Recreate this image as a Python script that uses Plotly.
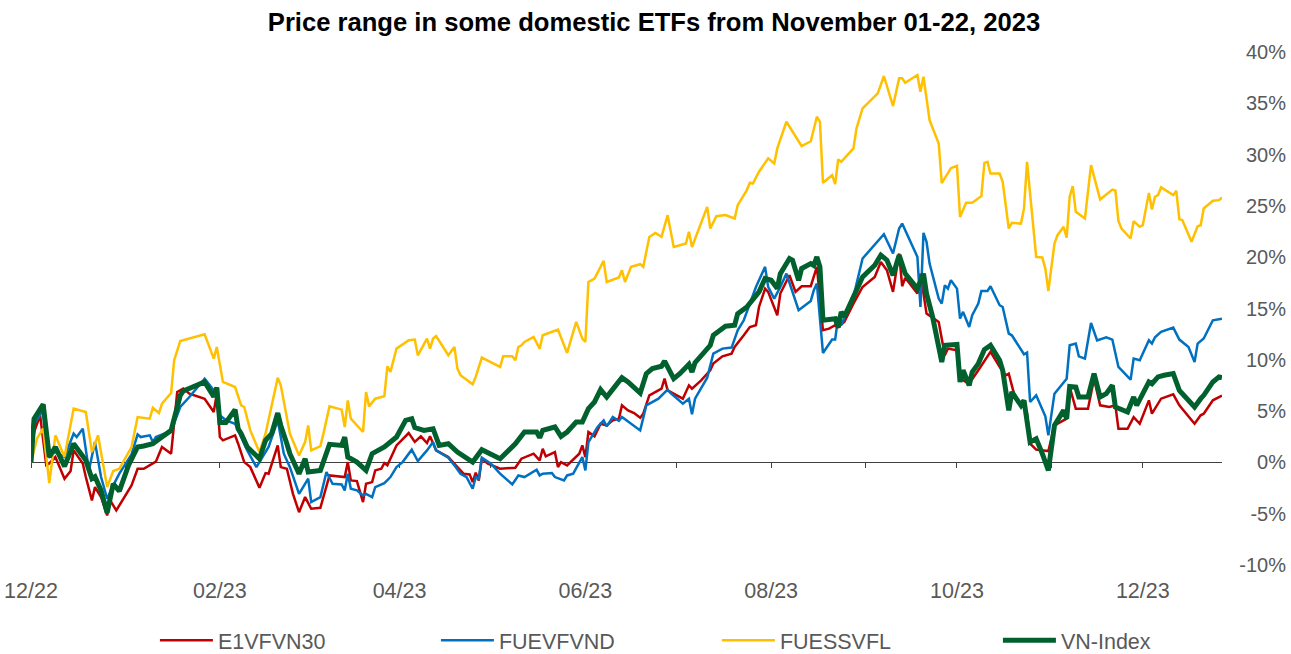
import pandas as pd
import plotly.graph_objects as go

START = "2022-12-01"
END = "2023-12-27"

# x values: days since 2022-12-01 ; y values: % change
e1_day = [0, 1, 3, 5, 6, 8, 11, 13, 14, 17, 18, 20, 21, 23, 25, 26, 28, 33, 35, 37, 41, 43, 46, 48, 50, 52, 57, 60, 61, 62,
          63, 67, 68, 70, 72, 75, 77, 78, 81, 82, 84, 86, 88, 90, 92, 95, 98, 103, 104, 105, 107, 109, 110, 112, 113, 115, 116, 117, 120, 124, 126,
          128, 130, 131, 133, 137, 140, 142, 144, 145, 146, 147, 148, 150, 154, 159, 161, 165, 167, 168, 169, 172, 173, 174, 176, 180, 181, 182, 183, 185, 187, 189, 191,
          193, 194, 196, 198, 200, 201, 203, 207, 208, 209, 214, 216, 217, 220, 223, 224, 227, 230, 231, 234, 236, 238, 239, 241, 242, 245, 246, 249, 251, 253, 256,
          258, 260, 262, 264, 265, 267, 270, 273, 277, 279, 281, 283, 285, 286, 287, 291, 292, 294, 298, 300, 301, 304, 305, 308, 311, 315, 318,
          320, 321, 323, 326, 327, 328, 330, 334, 336, 340, 341, 343, 347, 349, 351, 354, 356, 357, 360, 362, 364, 367, 368, 371, 375, 377, 382, 384, 385, 388, 391]
e1_val = [0, 2.96, 4.59, -0.26, -0.1, 0.52, -1.59, -0.84, 1.17, -0.1, -1.43, -3.71, -2.41, -3.38, -5.17, -3.71, -4.68, -2.24, -0.62, -0.62, 0.07, 1.5, 0.85, 6.86, 7.19, 6.7, 6.21, 4.91, 6.7, 2.47,
          2.15, 2.64, 1.82, 0.03, -0.46, -2.47, -1.04, -1.1, 1.66, -0.46, -0.62, -3.06, -4.85, -3.38, -4.52, -4.42, -1.27, -1.43, 0.03, -1.76, -1.82, -3.87, -2.08, -1.92, -0.78, -0.62, -0.07, -0.29, 1.66, 2.86, 2.0,
          2.54, 1.89, 2.54, 1.17, 0.52, -0.46, -1.1, -1.17, -1.92, -1.0, -1.76, 0.36, -0.13, -0.62, -0.52, 0.36, 0.85, 0.2, 1.33, 0.59, 1.0, -0.46, 0.03, -0.29, 0.85, 1.66, 0.52, 2.96, 2.54, 3.77, 3.61, 4.1,
          4.26, 5.56, 5.07, 4.81, 4.36, 4.75, 6.54, 7.19, 8.16, 7.02, 6.21, 7.51, 7.19, 8.0, 8.98, 9.63, 10.34, 10.6, 11.25, 12.39, 13.2, 13.37, 15.15, 16.94, 16.62, 14.34, 16.46, 18.24, 16.62, 17.17, 17.17,
          19.06, 12.88, 13.04, 13.37, 13.2, 13.69, 15.48, 17.1, 18.08, 19.54, 18.73, 16.62, 20.36, 17.17, 17.99, 16.46, 18.4, 14.5, 13.69, 10.44, 11.09, 10.93, 8.16, 7.67, 8.98, 10.77, 9.31,
          8.49, 8.65, 6.37, 5.4, 4.75, 1.82, 1.24, 1.1, 3.61, 4.26, 7.35, 5.24, 5.24, 8.16, 5.56, 5.4, 5.56, 3.28, 3.28, 4.42, 3.77, 6.05, 4.75, 6.21, 6.63, 5.56, 3.77, 4.59, 4.75, 6.05, 6.5]

fuev_day = [0, 1, 4, 5, 6, 8, 11, 14, 15, 17, 19, 21, 23, 25, 27, 29, 33, 35, 36, 39, 40, 41, 46, 49, 52, 57, 60, 61, 62,
            64, 67, 69, 71, 74, 76, 78, 81, 83, 85, 88, 91, 92, 95, 97, 99, 102, 103, 104, 105, 107, 109, 110, 112, 113, 116, 118, 120, 122, 125, 127,
            130, 132, 133, 137, 139, 141, 143, 145, 146, 147, 148, 151, 154, 158, 160, 162, 166, 167, 168, 171, 172, 175, 176, 178, 181, 182, 183, 186, 188, 189, 191,
            193, 194, 197, 200, 202, 206, 209, 210, 214, 216, 217, 218, 222, 224, 227, 230, 232, 234, 238, 241, 242, 244, 246, 248, 252, 256,
            257, 258, 260, 263, 264, 265, 266, 270, 273, 277, 279, 280, 283, 285, 286, 288, 291, 292, 293, 294, 295, 298, 299, 300, 301, 302, 304, 305, 306, 308, 309, 311, 312, 314, 315, 318,
            319, 321, 322, 326, 327, 328, 330, 333, 334, 336, 340, 341, 343, 344, 346, 348, 350, 353, 355, 357, 361, 362, 364, 367, 368, 369, 371, 375, 377, 380, 382, 383, 385, 388, 391]
fuev_val = [0, 3.77, 5.07, 0.85, 0.52, 1.0, 0.52, 2.8, 2.47, 3.28, -0.78, 1.98, -1.43, -3.54, -2.24, -1.1, 0.78, 2.73, 2.47, 2.64, 1.98, 2.47, 3.06, 5.4, 6.37, 8.16, 7.02, 7.02, 4.59,
            4.1, 3.77, 2.47, 1.17, -0.46, 0.52, 1.5, 4.1, 0.85, -0.46, -3.06, -1.59, -3.87, -3.38, -0.94, -2.08, -2.15, -2.73, -1.1, -2.57, -2.73, -3.22, -3.06, -3.38, -2.41, -2.02, -1.43, -0.46, 0.03, 1.24, 0.13,
            1.17, 1.98, 1.17, 0.46, -0.29, -1.1, -1.43, -2.57, -1.43, -1.59, 0.46, -0.13, -1.1, -2.15, -1.27, -1.43, -0.72, -1.27, -1.1, -1.04, -1.43, -1.76, -1.27, -1.1, 0.52, -0.78, 1.98, 3.45, 4.1, 3.51, 4.42,
            4.04, 4.42, 3.77, 3.12, 5.56, 6.21, 7.09, 6.76, 5.72, 6.21, 4.68, 6.21, 8.26, 10.6, 11.09, 11.19, 12.88, 13.85, 17.1, 19.06, 17.1, 15.97, 17.1, 18.4, 14.83, 15.74,
            16.78, 17.43, 10.67, 11.97, 11.97, 14.18, 13.37, 16.13, 19.87, 21.27, 21.98, 22.24, 20.36, 22.8, 23.28, 21.98, 20.03, 15.15, 22.37, 21.5, 19.38, 15.97, 15.48, 17.27, 16.94, 17.75, 16.94, 14.02, 14.67, 13.2, 14.34, 15.48, 16.7, 16.7, 17.17, 15.32,
            15.15, 12.55, 12.39, 10.54, 10.7, 5.89, 6.54, 4.49, 2.64, 6.7, 8.16, 11.41, 11.58, 10.34, 10.12, 13.59, 11.9, 12.2, 11.97, 9.3, 8.06, 10.12, 9.95, 11.9, 11.58, 12.2, 12.72, 13.14, 11.97, 11.25, 9.79, 11.58, 12.07, 13.85, 14.0]

fuess_day = [0, 2, 4, 5, 6, 8, 11, 14, 18, 20, 22, 25, 27, 29, 33, 35, 39, 40, 42, 43, 46, 47, 49, 57, 60, 61, 62, 63,
             67, 69, 70, 72, 75, 77, 81, 82, 85, 88, 90, 91, 92, 95, 96, 98, 102, 103, 104, 105, 109, 110, 111, 113, 116, 117, 118, 120, 124, 126, 127,
             130, 131, 132, 133, 137, 139, 140, 141, 145, 146, 148, 154, 155, 158, 159, 160, 161, 162, 165, 167, 168, 173, 176, 179, 181, 182, 183, 185, 188, 189, 191,
             193, 194, 195, 197, 200, 201, 203, 205, 207, 209, 211, 215, 216, 217, 220, 222, 223, 225, 228, 231, 232, 235, 236, 237, 239, 242, 244, 245, 248, 251, 253, 256,
             258, 259, 260, 263, 264, 265, 266, 270, 271, 273, 278, 280, 283, 285, 286, 287, 291, 292, 293, 295, 298, 299, 302, 304, 305, 307, 309, 312, 313, 314, 315, 318,
             319, 321, 322, 325, 326, 327, 330, 332, 333, 334, 336, 337, 339, 340, 341, 342, 343, 346, 348, 351, 355, 356, 357, 358, 361, 362, 364, 365, 367, 368, 369, 370, 371,
             375, 376, 377, 378, 381, 383, 384, 385, 388, 390, 391]
fuess_val = [0, 2.34, 3.32, 0.52, -2.02, 2.64, 0.52, 5.24, 4.91, 1.0, 2.64, -2.41, -0.84, -0.62, 1.5, 4.42, 4.26, 5.33, 4.81, 5.72, 6.76, 9.95, 11.84, 12.49, 10.12, 11.25, 9.4, 7.84,
             7.35, 5.56, 5.4, 3.12, 1.0, 2.8, 8.26, 7.51, 2.8, 0.68, 2.0, 3.61, 1.17, 1.59, 2.8, 5.46, 5.14, 3.45, 6.05, 4.26, 2.96, 6.86, 5.46, 6.21, 6.44, 9.37, 8.81, 11.09, 11.9, 11.97, 10.44,
             12.07, 11.09, 12.07, 12.3, 10.44, 11.25, 9.14, 8.49, 7.61, 8.33, 10.21, 9.3, 10.34, 10.34, 9.95, 11.25, 11.41, 11.74, 12.23, 11.09, 12.39, 12.94, 10.67, 13.69, 12.07, 11.74, 17.59, 17.92, 19.64, 17.59, 17.82,
             18.02, 18.73, 17.59, 19.06, 19.32, 19.06, 21.98, 22.37, 21.98, 24.1, 21.0, 21.33, 22.47, 21.0, 23.28, 24.91, 22.8, 24.0, 24.1, 23.77, 25.07, 26.54, 27.25, 27.18, 28.33, 29.63, 29.14, 30.6, 33.2, 31.74, 30.83, 31.3,
             33.69, 33.2, 27.25, 27.99, 27.12, 29.53, 29.3, 30.6, 32.55, 34.5, 35.97, 37.66, 34.73, 37.43, 37.43, 37.0, 37.76, 36.13, 37.59, 33.36, 31.09, 27.22, 28.68, 28.91, 23.93, 25.3, 25.3, 25.95, 29.2, 29.3, 28.16, 28.16,
             27.35, 22.8, 23.35, 23.28, 24.75, 29.3, 20.03, 19.97, 18.89, 16.71, 21.33, 22.15, 22.96, 21.9, 25.89, 26.93, 24.42, 23.77, 28.98, 25.62, 26.59, 26.5, 23.54, 22.8, 21.82, 23.51, 22.96, 23.12, 26.27, 24.65, 25.89, 26.05, 26.8,
             26.05, 26.47, 23.7, 23.61, 21.5, 23.02, 23.12, 24.75, 25.5, 25.56, 25.82]

vn_day = [0, 1, 4, 6, 8, 11, 14, 18, 20, 21, 23, 25, 27, 29, 32, 35, 37, 40, 43, 46, 49, 50, 57, 60, 61, 62,
          64, 67, 68, 69, 71, 75, 77, 79, 81, 82, 84, 85, 88, 90, 91, 95, 98, 102, 103, 104, 107, 110, 112, 116, 120, 123, 125, 126,
          129, 132, 134, 137, 140, 145, 148, 151, 154, 159, 162, 166, 167, 168, 172, 174, 176, 179, 181, 183, 185, 187, 189, 192,
          194, 196, 200, 202, 204, 207, 208, 211, 213, 216, 217, 218, 223, 224, 228, 231, 232, 235, 237, 239, 241, 243, 245, 246, 249, 250, 252, 253, 256,
          257, 258, 259, 260, 264, 265, 266, 267, 270, 273, 277, 279, 281, 283, 285, 287, 291, 293, 294, 296, 299, 300, 304, 305, 306, 308, 309, 311, 313, 315, 318,
          319, 321, 322, 325, 326, 328, 330, 332, 334, 336, 339, 340, 341, 343, 344, 347, 349, 351, 353, 355, 356, 360, 362, 363, 367, 368, 370, 372, 375, 377, 382, 384, 385, 388, 390, 391]
vn_val = [0, 4.26, 5.66, 0.52, 1.5, -0.39, 1.82, 0.2, -1.59, -1.4, -2.73, -4.91, -2.08, -2.8, -0.29, 1.5, 1.6, 1.82, 2.47, 3.12, 6.54, 6.96, 7.84, 6.4, 7.3, 3.9,
          3.9, 5.14, 3.28, 2.8, 1.5, 0.36, 2.15, 2.8, 4.81, 3.6, 1.82, 0.85, -1.1, 0.36, -0.94, -0.78, 1.76, 1.66, 2.47, 0.52, 0.03, -0.78, 0.85, 1.5, 2.47, 4.1, 4.26, 3.4,
          3.12, 3.28, 1.66, 1.82, 1.0, 0.03, 1.24, 0.85, 0.36, 1.82, 2.96, 2.96, 2.41, 3.12, 3.45, 2.54, 2.96, 3.93, 3.93, 5.24, 5.89, 7.09, 6.37, 7.51,
          8.26, 7.84, 6.76, 8.65, 9.14, 9.37, 9.88, 8.16, 8.65, 9.56, 8.81, 9.72, 11.41, 12.39, 13.27, 13.37, 14.5, 15.15, 15.97, 16.62, 17.92, 17.75, 16.94, 18.4, 19.87, 19.7, 17.75, 18.9, 19.38,
          19.2, 20.03, 19.06, 13.85, 14.0, 13.14, 14.67, 14.2, 16.13, 18.08, 19.22, 20.2, 19.71, 18.24, 20.2, 18.4, 16.94, 18.4, 16.46, 14.18, 9.79, 11.41, 11.5, 7.84, 8.98, 7.51, 8.81, 9.63, 11.0, 11.41, 9.95,
          8.98, 5.07, 6.86, 5.56, 6.05, 1.98, 2.31, 0.85, -0.78, 3.61, 5.07, 4.26, 7.41, 7.35, 6.37, 6.37, 8.65, 6.37, 6.7, 7.51, 5.4, 4.91, 6.37, 5.56, 7.84, 7.67, 8.33, 8.49, 8.65, 7.02, 5.4, 6.21, 6.54, 7.84, 8.33, 8.26]

series_names = ["E1VFVN30", "FUEVFVND", "FUESSVFL", "VN-Index"]
x_tick_dates = ["2022-12-01", "2023-02-01", "2023-04-01", "2023-06-01", "2023-08-01", "2023-10-01", "2023-12-01"]
x_tick_labels = ["12/22", "02/23", "04/23", "06/23", "08/23", "10/23", "12/23"]
y_tick_vals = [-10, -5, 0, 5, 10, 15, 20, 25, 30, 35, 40]
y_tick_text = ["-10%", "-5%", "0%", "5%", "10%", "15%", "20%", "25%", "30%", "35%", "40%"]


def to_dates(days):
    return pd.Timestamp(START) + pd.to_timedelta(days, unit="D")


FONT = "Liberation Sans, Arial, sans-serif"
GREY = "#595959"
DOMAIN_END = 0.949

fig = go.Figure()
fig.add_trace(go.Scatter(x=to_dates(e1_day), y=e1_val, name=series_names[0], mode="lines",
                         line=dict(color="#C00000", width=2.5)))
fig.add_trace(go.Scatter(x=to_dates(fuev_day), y=fuev_val, name=series_names[1], mode="lines",
                         line=dict(color="#0070C0", width=2.5)))
fig.add_trace(go.Scatter(x=to_dates(fuess_day), y=fuess_val, name=series_names[2], mode="lines",
                         line=dict(color="#FFC000", width=2.5)))
fig.add_trace(go.Scatter(x=to_dates(vn_day), y=vn_val, name=series_names[3], mode="lines", xaxis="x2",
                         line=dict(color="#00612E", width=5)))

fig.update_layout(
    width=1291, height=654,
    margin=dict(l=31, r=5, t=52, b=89),
    paper_bgcolor="white", plot_bgcolor="white",
    font=dict(family=FONT, color=GREY, size=20),
    title=dict(text="<b>Price range in some domestic ETFs from November 01-22, 2023</b>",
               x=0.5066, xref="container", xanchor="center",
               y=0.966, yref="container", yanchor="middle",
               font=dict(family=FONT, size=25.6, color="black")),
    xaxis=dict(type="date", range=[START, END], domain=[0, DOMAIN_END],
               tickvals=x_tick_dates, ticktext=x_tick_labels,
               showline=False, ticks="", showgrid=False, zeroline=False,
               tickfont=dict(size=21.5, color=GREY), ticklabelstandoff=10),
    xaxis2=dict(type="date", range=[START, END], domain=[0, DOMAIN_END],
                overlaying="x", anchor="free", position=0.2, side="bottom",
                showline=False, ticks="outside", ticklen=5, tickwidth=1.3, tickcolor="#404040",
                tick0=START, dtick="M1", showticklabels=False, showgrid=False, zeroline=False,
                layer="below traces"),
    yaxis=dict(range=[-10, 40], anchor="free", position=1, side="left",
               tickvals=y_tick_vals, ticktext=y_tick_text,
               showgrid=False, showline=False, ticks="",
               zeroline=True, zerolinecolor="#404040", zerolinewidth=1.3,
               tickfont=dict(size=20, color=GREY)),
    legend=dict(orientation="h", xref="container", yref="container",
                x=0.120, xanchor="left", y=0.021, yanchor="middle",
                itemwidth=53,
                entrywidth=213, entrywidthmode="pixels",
                font=dict(size=21.5, color=GREY), traceorder="normal"),
    showlegend=True,
)

fig.write_html("out.html",
               config={"displayModeBar": False},
               post_script="document.body.style.margin='0';document.body.style.padding='0';document.body.style.overflow='hidden';")
